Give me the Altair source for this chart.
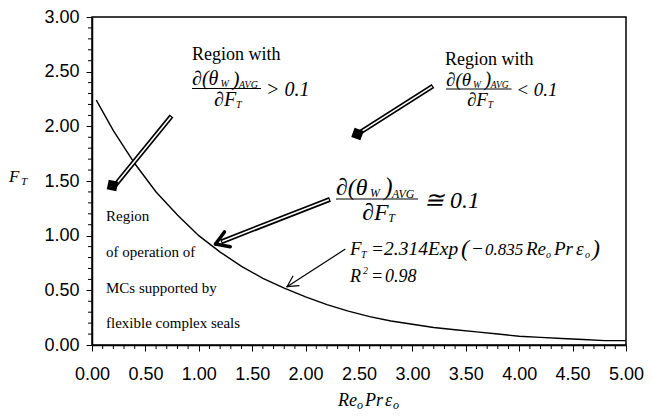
import altair as alt
import pandas as pd
import numpy as np

# ---- data ----
x_vals = [0.04, 0.2, 0.4, 0.6, 0.8, 1.0, 1.2, 1.4, 1.6, 1.8, 2.0, 2.2, 2.4, 2.6,
          2.8, 3.0, 3.2, 3.4, 3.6, 3.8, 4.0, 4.2, 4.4, 4.6, 4.8, 5.0]
ft_vals = [2.24, 1.96, 1.66, 1.40, 1.19, 1.00, 0.85, 0.72, 0.61, 0.52, 0.44, 0.37,
           0.31, 0.26, 0.22, 0.19, 0.16, 0.14, 0.12, 0.10, 0.08, 0.07, 0.06, 0.05,
           0.04, 0.04]
x_major = [0.0, 0.5, 1.0, 1.5, 2.0, 2.5, 3.0, 3.5, 4.0, 4.5, 5.0]
x_minor = [0.1, 0.2, 0.3, 0.4, 0.6, 0.7, 0.8, 0.9, 1.1, 1.2, 1.3, 1.4, 1.6, 1.7,
           1.8, 1.9, 2.1, 2.2, 2.3, 2.4, 2.6, 2.7, 2.8, 2.9, 3.1, 3.2, 3.3, 3.4,
           3.6, 3.7, 3.8, 3.9, 4.1, 4.2, 4.3, 4.4, 4.6, 4.7, 4.8, 4.9]
y_major = [0.0, 0.5, 1.0, 1.5, 2.0, 2.5, 3.0]
y_minor = [0.1, 0.2, 0.3, 0.4, 0.6, 0.7, 0.8, 0.9, 1.1, 1.2, 1.3, 1.4, 1.6, 1.7,
           1.8, 1.9, 2.1, 2.2, 2.3, 2.4, 2.6, 2.7, 2.8, 2.9]

W, H = 534, 328
OX, OY = 92, 17  # page position of plot origin
SERIF = "Liberation Serif"
SANS = "Liberation Sans"

xs = alt.Scale(domain=[0, 5], nice=False, zero=False)
ys = alt.Scale(domain=[0, 3], nice=False, zero=False)

curve = pd.DataFrame({"x": x_vals, "ft": ft_vals})
base = alt.Chart(curve).mark_line(color="black", strokeWidth=1.4).encode(
    x=alt.X("x:Q", scale=xs,
            axis=alt.Axis(values=x_major, format=".2f", title=None, grid=False,
                          tickSize=6, tickColor="black", domainColor="black",
                          domainWidth=1.5, labelFont=SANS, labelFontSize=18,
                          labelColor="black", labelPadding=14, labelFlush=False,
                          labelOverlap=False)),
    y=alt.Y("ft:Q", scale=ys,
            axis=alt.Axis(values=y_major, format=".2f", title=None, grid=False,
                          tickSize=6, tickColor="black", domainColor="black",
                          domainWidth=1.5, labelFont=SANS, labelFontSize=18,
                          labelColor="black", labelPadding=7, labelFlush=False,
                          labelOverlap=False)),
)

xminor = alt.Chart(pd.DataFrame({"v": x_minor})).mark_rule(color="black", strokeWidth=1).encode(
    x=alt.X("v:Q", scale=xs), y=alt.value(H), y2=alt.value(H + 4))
yminor = alt.Chart(pd.DataFrame({"v": y_minor})).mark_rule(color="black", strokeWidth=1).encode(
    y=alt.Y("v:Q", scale=ys), x=alt.value(-4), x2=alt.value(0))


def P(px, py):
    return (px - OX, py - OY)


# ---- annotation texts (page pixel positions) ----
ital = []   # (text, page_x, page_baseline_y, fontsize)
norm = []


def fraction(x0, yb, s, rel):
    parts = [("∂(θ", 0, -3.5, 20), ("W", 28.5, -1.5, 10), (")", 40.5, -3, 21),
             ("AVG", 47, -1, 10), ("∂F", 22, 17.5, 20), ("T", 44, 19.5, 10),
             (rel, 74, 7.5, 20)]
    for t, dx, dy, fs in parts:
        ital.append((t, x0 + dx * s, yb + dy * s, fs * s))
    return (x0, yb, x0 + 69 * s, yb)


norm.append(("Region with", 192, 60, 18))
norm.append(("Region with", 445, 65, 18))
bars = [fraction(192, 88.5, 1.0, "> 0.1"),
        fraction(446, 89, 0.95, "< 0.1"),
        fraction(336, 199, 1.19, "≅ 0.1")]

# equation
for t, x, y, fs in [("F", 350, 255, 19), ("T", 361, 258, 10), ("=", 371, 255, 19),
                    ("2.314Exp", 384, 255, 19.5), ("(", 461, 256, 24), ("−", 471, 255, 19),
                    ("0.835", 485, 255, 17), ("Re", 526, 255, 19), ("o", 546, 258, 10),
                    ("Pr", 554, 255, 19), ("ε", 576, 255, 19), ("o", 585, 258, 10),
                    (")", 592, 256, 24),
                    ("R", 350, 282, 18), ("2", 363, 274, 10), ("=", 371, 282, 18),
                    ("0.98", 385, 282, 18),
                    # y title
                    ("F", 9, 182, 17), ("T", 21, 185, 11),
                    # x title
                    ("Re", 338, 406, 18), ("o", 357, 409, 12), ("Pr", 365, 406, 18),
                    ("ε", 385, 406, 18), ("o", 393, 409, 12)]:
    ital.append((t, x, y, fs))

for t, y in [("Region", 221), ("of operation of", 257), ("MCs supported by", 293),
             ("flexible complex seals", 328)]:
    norm.append((t, 106, y, 15))


def text_layer(items, style):
    df = pd.DataFrame([{"t": t, "px": P(x, y)[0], "py": P(x, y)[1], "fs": fs}
                       for t, x, y, fs in items])
    return alt.Chart(df).mark_text(align="left", baseline="alphabetic", font=SERIF,
                                   fontStyle=style, color="black").encode(
        x=alt.X("px:Q", scale=None), y=alt.Y("py:Q", scale=None),
        size=alt.Size("fs:Q", scale=None), text="t:N")


def rules(segs, width, color, cap="butt"):
    df = pd.DataFrame([{"x1": P(a, b)[0], "y1": P(a, b)[1], "x2": P(c, d)[0], "y2": P(c, d)[1]}
                       for a, b, c, d in segs])
    return alt.Chart(df).mark_rule(color=color, strokeWidth=width, strokeCap=cap).encode(
        x=alt.X("x1:Q", scale=None), y=alt.Y("y1:Q", scale=None),
        x2="x2:Q", y2="y2:Q")


def shorten(a, b, c, d, s0, s1):
    v = np.array([c - a, d - b]); L = np.hypot(*v); u = v / L
    return (a + u[0] * s0, b + u[1] * s0, c - u[0] * s1, d - u[1] * s1)


def head(a, b, c, d, L, ang):
    v = np.array([a - c, b - d]); u = v / np.hypot(*v)
    out = []
    for sg in (1, -1):
        t = np.radians(ang) * sg
        r = (u[0] * np.cos(t) - u[1] * np.sin(t), u[0] * np.sin(t) + u[1] * np.cos(t))
        out.append((c, d, c + r[0] * L, d + r[1] * L))
    return out


dbl = [(171.5, 116, 114.5, 186), (433, 86, 357.5, 134),
       shorten(330, 199.3, 215.5, 244, 0, 6)]
outer = rules(dbl, 5, "black")
inner = rules([shorten(*s, 1.2, 1.2) for s in dbl], 1.6, "white")
thin = rules([(345, 249.3, 287, 286.7)] + head(345, 249.3, 287, 286.7, 12, 28),
             1.2, "black", "round")
bold_head = rules(head(330, 199.3, 215.5, 244, 15, 32), 3.5, "black", "round")
bar_rules = rules(bars, 1, "black")

sq = pd.DataFrame({"px": [P(112.5, 185.5)[0], P(357.5, 134)[0]],
                   "py": [P(112.5, 185.5)[1], P(357.5, 134)[1]],
                   "ang": [12, 20]})
squares = alt.Chart(sq).mark_square(color="black", opacity=1, size=95).encode(
    x=alt.X("px:Q", scale=None), y=alt.Y("py:Q", scale=None),
    angle=alt.Angle("ang:Q", scale=None))

chart = alt.layer(base, xminor, yminor, outer, inner, squares, thin, bold_head,
                  bar_rules, text_layer(norm, "normal"), text_layer(ital, "italic")
                  ).properties(
    width=W, height=H,
    autosize=alt.AutoSizeParams(type="none"),
    padding={"left": OX - 8, "top": OY - 8, "right": 18, "bottom": 66},
    background="white",
).configure_view(stroke="black", strokeWidth=1.5)

chart.save("out.html", embed_options={"renderer": "svg", "actions": False})
